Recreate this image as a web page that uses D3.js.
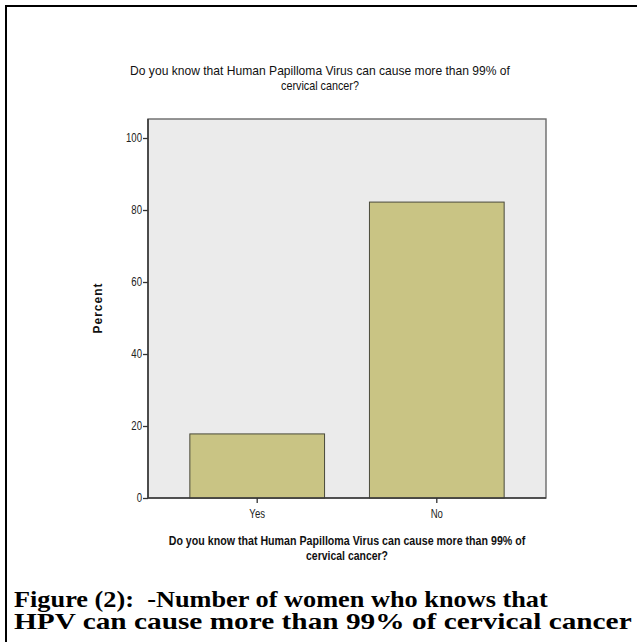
<!DOCTYPE html>
<html lang="en">
  <head>
    <meta charset="UTF-8" />
    <title>HPV chart</title>
    <script src="https://cdn.jsdelivr.net/npm/d3@7/dist/d3.min.js"></script>
    <style>
      body { margin: 0; background: #fff; }
    </style>
  </head>
  <body>
    <div id="wrapper"></div>
    <script>
      const categories = ['Yes', 'No']
      const percents = [17.8, 82.2]
      const yTicks = [0, 20, 40, 60, 80, 100]
      const titleLines = ['Do you know that Human Papilloma Virus can cause more than 99% of', 'cervical cancer?']
      const captionLines = ['Figure (2):  -Number of women who knows that', 'HPV can cause more than 99% of cervical cancer']

      const sans = '"Liberation Sans", Arial, sans-serif'
      const serif = '"Liberation Serif", "Times New Roman", serif'

      const dms = {
        width: 637,
        height: 642,
        plot: { left: 148, right: 546, top: 119, bottom: 498 }
      }

      const $svg = d3.select('#wrapper').append('svg')
        .attr('width', dms.width)
        .attr('height', dms.height)

      // page frame lines (top and left only)
      $svg.append('line')
        .attr('x1', 5).attr('x2', dms.width)
        .attr('y1', 6).attr('y2', 6)
        .attr('stroke', '#000').attr('stroke-width', 2.2)
      $svg.append('line')
        .attr('x1', 6).attr('x2', 6)
        .attr('y1', 5).attr('y2', dms.height)
        .attr('stroke', '#000').attr('stroke-width', 2)

      const p = dms.plot
      const yScale = d3.scaleLinear()
        .domain([0, 105.28])
        .range([p.bottom, p.top])
      const xScale = d3.scaleBand()
        .domain(categories)
        .range([p.left, p.right])
        .paddingInner(0.25)
        .paddingOuter(0.233)

      // plot background
      $svg.append('rect')
        .attr('x', p.left).attr('y', p.top)
        .attr('width', p.right - p.left)
        .attr('height', p.bottom - p.top)
        .attr('fill', '#ebebeb')
        .attr('stroke', '#6a6a6a')
        .attr('stroke-width', 1.4)

      $svg.append('g').selectAll('rect')
        .data(categories)
        .join('rect')
        .attr('x', d => xScale(d))
        .attr('y', (d, i) => yScale(percents[i]))
        .attr('width', xScale.bandwidth())
        .attr('height', (d, i) => yScale(0) - yScale(percents[i]))
        .attr('fill', '#c9c484')
        .attr('stroke', '#4a4a3a')
        .attr('stroke-width', 1)

      const narrowK = 0.8
      const yAxis = $svg.append('g')
        .attr('transform', `translate(${p.left},0)`)
        .call(d3.axisLeft(yScale).tickValues(yTicks).tickSize(5).tickPadding(1))
      const xAxis = $svg.append('g')
        .attr('transform', `translate(0,${p.bottom})`)
        .call(d3.axisBottom(xScale).tickSize(5).tickPadding(6))

      ;[yAxis, xAxis].forEach(a => {
        a.select('.domain').attr('stroke', '#3a3a3a').attr('stroke-width', 1.6)
        a.selectAll('.tick line').attr('stroke', '#333').attr('stroke-width', 1.3)
        a.selectAll('.tick text')
          .attr('fill', '#222')
          .style('font-family', sans)
          .style('font-size', '12px')
          .attr('transform', `scale(${narrowK},1)`)
      })
      yAxis.selectAll('.tick text').attr('x', -6 / narrowK)
      yAxis.select('.domain').attr('d', `M0,${p.bottom}V${p.top}`)
      xAxis.select('.domain').attr('d', `M${p.left},0H${p.right}`)

      // writes lines, squeezed or stretched so each gets its wanted width
      function drawLines(lines, x, y0, lh, widths, style) {
        const g = $svg.append('g')
        g.selectAll('text')
          .data(lines)
          .join('text')
          .attr('text-anchor', style.anchor || 'middle')
          .attr('xml:space', 'preserve')
          .style('white-space', 'pre')
          .style('font-family', style.font)
          .style('font-size', style.size)
          .style('font-weight', style.weight || 'normal')
          .attr('fill', style.fill || '#111')
          .text(d => d)
          .each(function (d, i) {
            const k = widths[i] / this.getComputedTextLength()
            d3.select(this).attr('transform', `translate(${x},${y0 + i * lh}) scale(${k},1)`)
          })
        return g
      }

      // chart title
      drawLines(titleLines, 320, 75, 14.5, [380, 78], { font: sans, size: '13px' })

      // x axis title
      drawLines(titleLines, (p.left + p.right) / 2, 545, 14.5, [357, 82],
        { font: sans, size: '13px', weight: 'bold' })

      // y axis title
      $svg.append('text')
        .attr('transform', 'translate(102,308) rotate(-90)')
        .attr('text-anchor', 'middle')
        .style('font-family', sans)
        .style('font-size', '12px')
        .style('font-weight', 'bold')
        .style('letter-spacing', '1px')
        .attr('fill', '#111')
        .text('Percent')

      // figure caption
      drawLines(captionLines, 14, 607, 22, [534, 618],
        { font: serif, size: '22.5px', weight: 'bold', anchor: 'start', fill: '#000' })
    </script>
  </body>
</html>
